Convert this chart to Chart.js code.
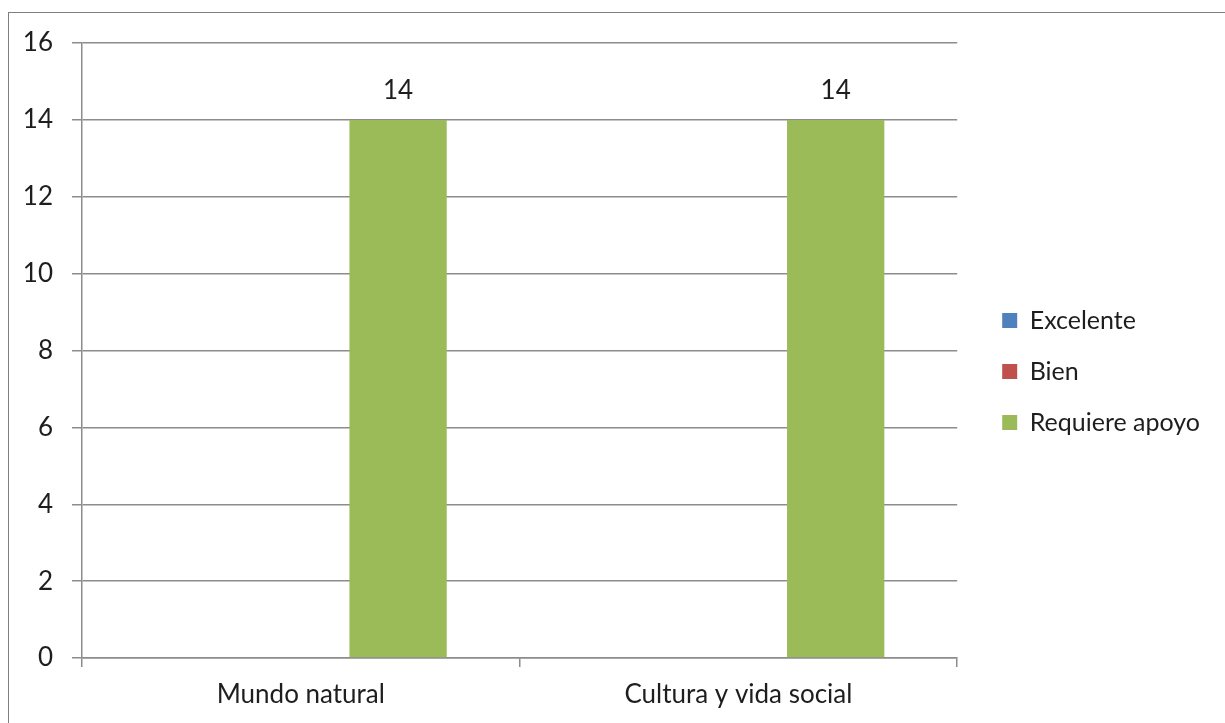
<!DOCTYPE html>
<html><head><meta charset="utf-8">
<script src="https://cdn.jsdelivr.net/npm/chart.js@4.4.0/dist/chart.umd.min.js"></script>
<style>
html,body{margin:0;padding:0;background:#fff;overflow:hidden;}
#wrap{position:relative;width:1225px;height:723px;overflow:hidden;}
#frame{position:absolute;left:8px;top:12px;width:1400px;height:900px;border:1px solid #7f7f7f;box-sizing:border-box;}
canvas{position:absolute;left:0;top:0;}
</style></head><body>
<div id="wrap"><div id="frame"></div><canvas id="c" width="1225" height="723"></canvas></div>
<script>
// ---- data ----
const categories = ['Mundo natural', 'Cultura y vida social'];
const seriesNames = ['Excelente', 'Bien', 'Requiere apoyo'];
const excelente = [0, 0];
const bien = [0, 0];
const requiereApoyo = [14, 14];
const yMin = 0, yMax = 16, yStep = 2;

const FONT = 'Lato';
const TEXT = '#1e1e1e';
const GRID = '#8c8c8c';

const valueLabels = {
  id: 'valueLabels',
  afterDatasetsDraw(chart) {
    const ctx = chart.ctx;
    chart.data.datasets.forEach((ds, i) => {
      if (!ds.showValues) return;
      const meta = chart.getDatasetMeta(i);
      meta.data.forEach((bar, j) => {
        ctx.save();
        ctx.font = '26px ' + FONT;
        ctx.fillStyle = TEXT;
        ctx.textAlign = 'center';
        ctx.textBaseline = 'middle';
        ctx.fillText(String(ds.data[j]), bar.x, bar.y - 29);
        ctx.restore();
      });
    });
  }
};

new Chart(document.getElementById('c'), {
  type: 'bar',
  data: {
    labels: categories,
    datasets: [
      { label: seriesNames[0], data: excelente, backgroundColor: '#4F81BD' },
      { label: seriesNames[1], data: bien, backgroundColor: '#C0504D' },
      { label: seriesNames[2], data: requiereApoyo, backgroundColor: '#9BBB59', showValues: true }
    ]
  },
  options: {
    responsive: false,
    animation: false,
    datasets: { bar: { barPercentage: 1, categoryPercentage: 0.667, borderWidth: 0 } },
    layout: { padding: { left: 0, top: 20, right: 15, bottom: 0 } },
    scales: {
      x: {
        type: 'category',
        offset: true,
        grid: { display: true, drawOnChartArea: false, drawTicks: true, tickLength: 9, color: GRID, lineWidth: 1.5, offset: true },
        border: { display: true, color: GRID, width: 1.5 },
        ticks: { font: { family: FONT, size: 26 }, color: TEXT, padding: 12, maxRotation: 0 },
        afterFit: s => { s.height = 65; }
      },
      xTop: {
        type: 'category', position: 'top', display: true,
        grid: { display: false }, border: { display: false }, ticks: { display: false },
        afterFit: s => { s.height = 23; }
      },
      y: {
        min: yMin, max: yMax,
        ticks: { stepSize: yStep, font: { family: FONT, size: 26 }, color: TEXT, padding: 19 },
        grid: { color: GRID, lineWidth: 1.5, tickLength: 10 },
        border: { display: true, color: GRID, width: 1.5 },
        afterFit: s => { s.width = 82; }
      },
      y2: {
        type: 'linear', position: 'right', display: true,
        grid: { display: false }, border: { display: false }, ticks: { display: false },
        afterFit: s => { s.width = 19; }
      }
    },
    plugins: {
      tooltip: { enabled: false },
      legend: {
        position: 'right', align: 'center', maxWidth: 300,
        labels: { boxWidth: 15, boxHeight: 15, padding: 26, font: { family: FONT, size: 25 }, color: TEXT }
      }
    }
  },
  plugins: [valueLabels]
});
</script>
</body></html>
